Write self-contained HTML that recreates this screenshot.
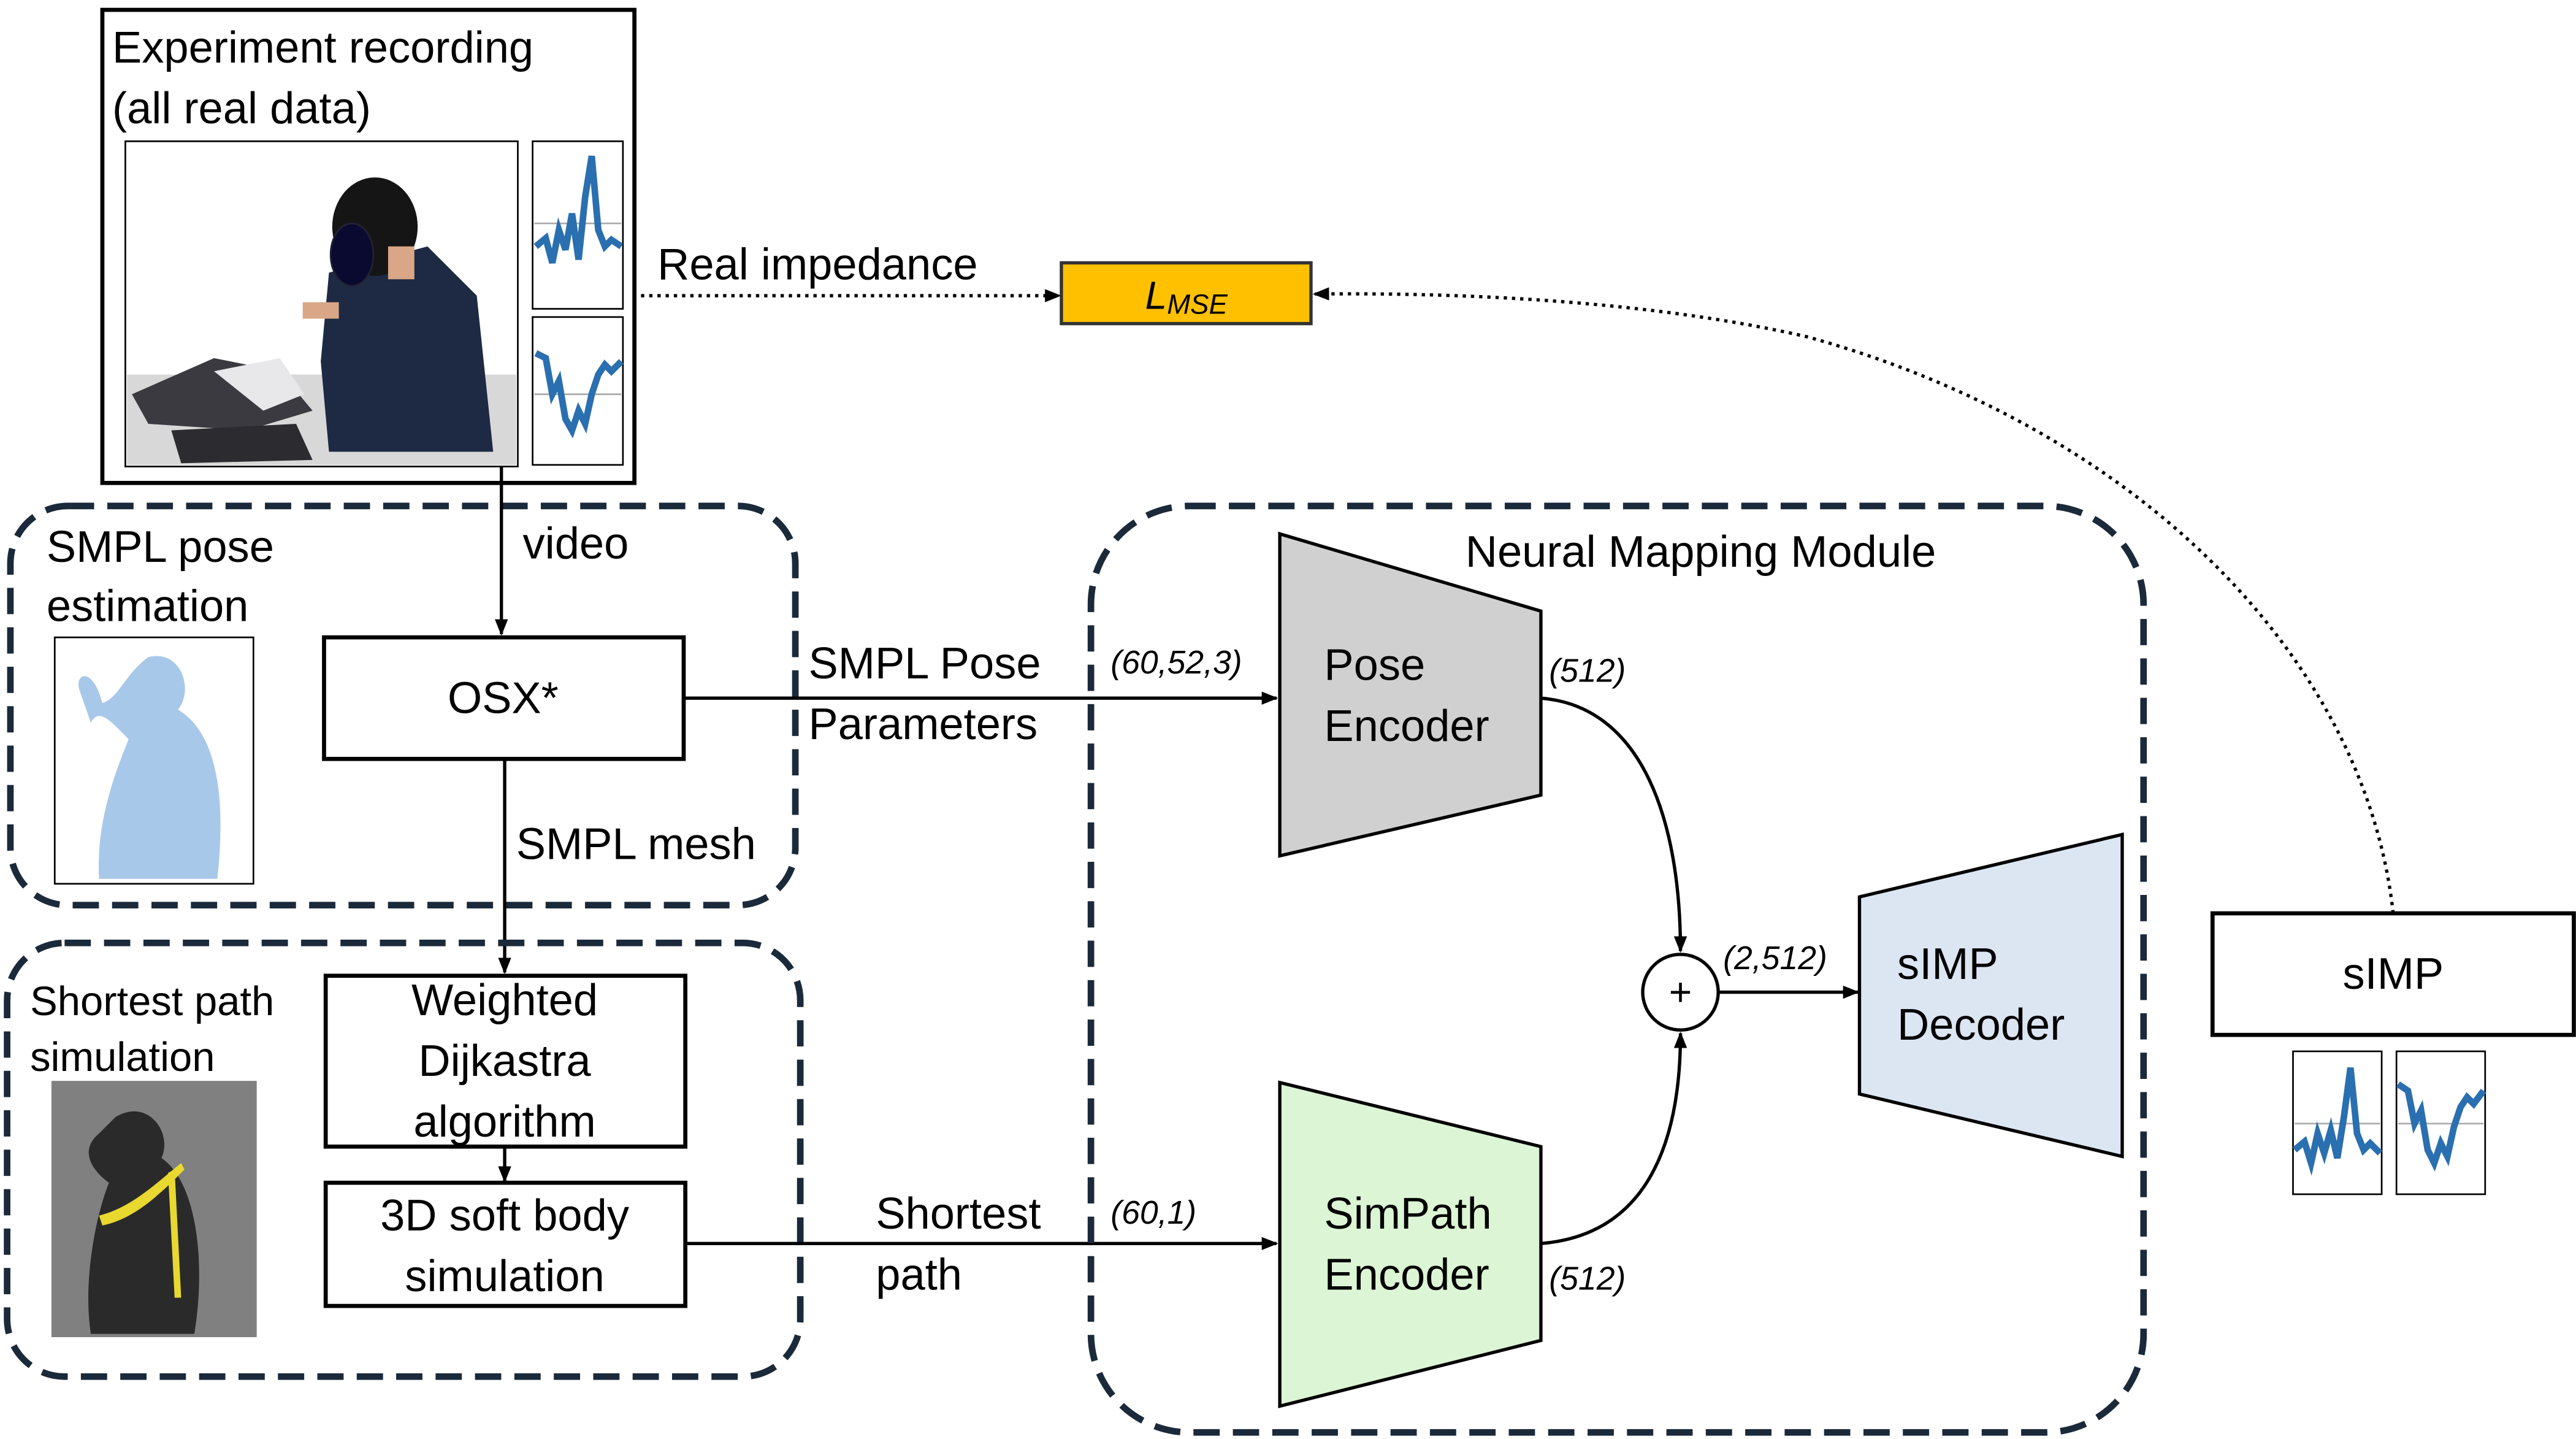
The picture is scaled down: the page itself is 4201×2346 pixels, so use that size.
<!DOCTYPE html>
<html><head><meta charset="utf-8"><style>
html,body{margin:0;padding:0;background:#fff;}
svg{display:block;}
text{font-family:"Liberation Sans",sans-serif;fill:#000;}
</style></head><body>
<svg width="4201" height="2346" viewBox="0 0 1568 876" xmlns="http://www.w3.org/2000/svg">
<defs>
<marker id="ah" markerWidth="10" markerHeight="10" refX="9" refY="5" orient="auto" markerUnits="userSpaceOnUse">
<path d="M0,1 L10,5 L0,9 Z" fill="#000"/></marker>
</defs>
<rect width="1568" height="876" fill="#fff"/>

<!-- Experiment box -->
<rect x="62" y="6" width="324" height="288" fill="#fff" stroke="#000" stroke-width="2.5"/>
<text x="68" y="38" font-size="27">Experiment recording</text>
<text x="68" y="75" font-size="27">(all real data)</text>
<rect x="76" y="86" width="239" height="198" fill="#fff" stroke="#000" stroke-width="1"/>
<!-- photo approximation -->
<rect x="77" y="228" width="237" height="55" fill="#d8d8d8"/>
<path d="M80,240 L130,218 L170,226 L190,250 L150,262 L90,258 Z" fill="#3a3a40"/>
<path d="M130,226 L170,218 L185,240 L160,250 Z" fill="#e8e8ea"/>
<path d="M104,262 L180,258 L190,280 L110,282 Z" fill="#2b2b30"/>
<path d="M200,166 L260,150 L290,180 L300,275 L200,275 L195,220 Z" fill="#1e2a44"/>
<ellipse cx="228" cy="138" rx="26" ry="30" fill="#151515"/>
<ellipse cx="214" cy="155" rx="13" ry="19" fill="#0a0a30" stroke="#223" stroke-width="1"/>
<rect x="236" y="150" width="16" height="20" fill="#d9a787"/>
<rect x="184" y="184" width="22" height="10" fill="#d9a787"/>
<!-- plots -->
<rect x="324" y="86" width="55" height="102" fill="#fff" stroke="#000" stroke-width="1"/>
<line x1="325" y1="136" x2="378" y2="136" stroke="#aaa" stroke-width="1"/>
<polyline points="326,150 332,145 336,160 340,140 344,152 348,130 352,158 356,120 360,95 364,140 368,150 372,146 378,150" fill="none" stroke="#2a6fb0" stroke-width="4"/>
<rect x="324" y="193" width="55" height="90" fill="#fff" stroke="#000" stroke-width="1"/>
<line x1="325" y1="240" x2="378" y2="240" stroke="#aaa" stroke-width="1"/>
<polyline points="326,215 332,218 336,240 340,232 344,255 348,262 352,250 356,258 360,240 364,228 368,222 372,226 378,220" fill="none" stroke="#2a6fb0" stroke-width="4"/>

<!-- Real impedance -->
<text x="400" y="170" font-size="27">Real impedance</text>
<line x1="385" y1="180" x2="645" y2="180" stroke="#000" stroke-width="2" stroke-dasharray="2,3" marker-end="url(#ah)"/>
<rect x="646" y="160" width="152" height="37" fill="#FFC000" stroke="#333" stroke-width="2"/>
<text x="697" y="188" font-size="24" font-style="italic">L<tspan font-size="17" dy="3">MSE</tspan></text>
<path d="M1457,556 C1440,400 1300,260 1100,205 C1000,182 880,178 800,179" fill="none" stroke="#000" stroke-width="2" stroke-dasharray="2,3" marker-end="url(#ah)"/>

<!-- SMPL pose box -->
<rect x="6" y="308" width="478" height="243" rx="35" fill="none" stroke="#1b2a3a" stroke-width="4" stroke-dasharray="16,8"/>
<text x="28" y="342" font-size="27">SMPL pose</text>
<text x="28" y="378" font-size="27">estimation</text>
<rect x="33" y="388" width="121" height="150" fill="#fff" stroke="#000" stroke-width="1"/>
<path d="M90,400 C110,395 118,420 108,432 C130,445 138,480 132,535 L60,535 C58,500 70,470 78,450 C68,440 60,430 55,440 L48,420 C45,410 56,405 62,428 C72,425 76,410 90,400 Z" fill="#a8c8ea"/>
<text x="318" y="340" font-size="27">video</text>
<line x1="305" y1="284" x2="305" y2="386" stroke="#000" stroke-width="2" marker-end="url(#ah)"/>
<rect x="197" y="388" width="219" height="74" fill="#fff" stroke="#000" stroke-width="2.5"/>
<text x="306" y="434" font-size="27" text-anchor="middle">OSX*</text>
<line x1="307" y1="462" x2="307" y2="592" stroke="#000" stroke-width="2" marker-end="url(#ah)"/>
<text x="314" y="523" font-size="27">SMPL mesh</text>
<line x1="416" y1="425" x2="777" y2="425" stroke="#000" stroke-width="2" marker-end="url(#ah)"/>
<text x="492" y="413" font-size="27">SMPL Pose</text>
<text x="492" y="450" font-size="27">Parameters</text>
<text x="676" y="410" font-size="20" font-style="italic">(60,52,3)</text>

<!-- Shortest path box -->
<rect x="4" y="574" width="483" height="264" rx="35" fill="none" stroke="#1b2a3a" stroke-width="4" stroke-dasharray="16,8"/>
<text x="18" y="618" font-size="25">Shortest path</text>
<text x="18" y="652" font-size="25">simulation</text>
<rect x="31" y="658" width="125" height="156" fill="#808080"/>
<path d="M70,680 C90,668 105,690 98,705 C120,720 125,770 118,812 L55,812 C50,780 58,740 66,720 C55,712 48,700 60,690 Z" fill="#2a2a2a"/>
<path d="M60,740 C80,735 95,720 110,708 L112,712 C98,726 82,742 62,746 Z" fill="#e8d830"/>
<path d="M106,712 L110,790 L106,790 L102,714 Z" fill="#e8d830"/>
<rect x="198" y="594" width="219" height="104" fill="#fff" stroke="#000" stroke-width="2.5"/>
<text x="307" y="618" font-size="27" text-anchor="middle">Weighted</text>
<text x="307" y="655" font-size="27" text-anchor="middle">Dijkastra</text>
<text x="307" y="692" font-size="27" text-anchor="middle">algorithm</text>
<line x1="307" y1="698" x2="307" y2="719" stroke="#000" stroke-width="2" marker-end="url(#ah)"/>
<rect x="198" y="720" width="219" height="75" fill="#fff" stroke="#000" stroke-width="2.5"/>
<text x="307" y="749" font-size="27" text-anchor="middle">3D soft body</text>
<text x="307" y="786" font-size="27" text-anchor="middle">simulation</text>
<line x1="417" y1="757" x2="777" y2="757" stroke="#000" stroke-width="2" marker-end="url(#ah)"/>
<text x="533" y="748" font-size="27">Shortest</text>
<text x="533" y="785" font-size="27">path</text>
<text x="676" y="745" font-size="20" font-style="italic">(60,1)</text>

<!-- Neural Mapping Module -->
<rect x="664" y="308" width="641" height="564" rx="60" fill="none" stroke="#1b2a3a" stroke-width="4" stroke-dasharray="16,8"/>
<text x="892" y="345" font-size="27">Neural Mapping Module</text>
<polygon points="779,325 938,372 938,484 779,521" fill="#d0d0d0" stroke="#000" stroke-width="2"/>
<text x="806" y="414" font-size="27">Pose</text>
<text x="806" y="451" font-size="27">Encoder</text>
<polygon points="779,659 938,698 938,816 779,856" fill="#dcf5d4" stroke="#000" stroke-width="2"/>
<text x="806" y="748" font-size="27">SimPath</text>
<text x="806" y="785" font-size="27">Encoder</text>
<text x="943" y="415" font-size="20" font-style="italic">(512)</text>
<text x="943" y="785" font-size="20" font-style="italic">(512)</text>
<path d="M938,425 C1000,430 1023,500 1023,579" fill="none" stroke="#000" stroke-width="2" marker-end="url(#ah)"/>
<path d="M938,757 C1000,752 1023,700 1023,629" fill="none" stroke="#000" stroke-width="2" marker-end="url(#ah)"/>
<circle cx="1023" cy="604" r="23" fill="#fff" stroke="#000" stroke-width="2"/>
<text x="1023" y="612" font-size="24" text-anchor="middle">+</text>
<line x1="1046" y1="604" x2="1131" y2="604" stroke="#000" stroke-width="2" marker-end="url(#ah)"/>
<text x="1049" y="590" font-size="20" font-style="italic">(2,512)</text>
<polygon points="1132,546 1292,508 1292,704 1132,666" fill="#dce6f2" stroke="#000" stroke-width="2"/>
<text x="1155" y="596" font-size="27">sIMP</text>
<text x="1155" y="633" font-size="27">Decoder</text>

<!-- sIMP output -->
<rect x="1347" y="556" width="220" height="74" fill="#fff" stroke="#000" stroke-width="2.5"/>
<text x="1457" y="602" font-size="27" text-anchor="middle">sIMP</text>
<rect x="1396" y="640" width="54" height="87" fill="#fff" stroke="#000" stroke-width="1"/>
<line x1="1397" y1="684" x2="1449" y2="684" stroke="#aaa" stroke-width="1"/>
<polyline points="1397,700 1403,695 1407,708 1411,690 1415,702 1419,688 1423,705 1427,680 1431,650 1435,690 1439,700 1443,696 1449,702" fill="none" stroke="#2a6fb0" stroke-width="4"/>
<rect x="1459" y="640" width="54" height="87" fill="#fff" stroke="#000" stroke-width="1"/>
<line x1="1460" y1="684" x2="1512" y2="684" stroke="#aaa" stroke-width="1"/>
<polyline points="1460,660 1466,664 1470,684 1474,676 1478,700 1482,708 1486,696 1490,704 1494,686 1498,674 1502,668 1506,672 1512,664" fill="none" stroke="#2a6fb0" stroke-width="4"/>
</svg>
</body></html>
